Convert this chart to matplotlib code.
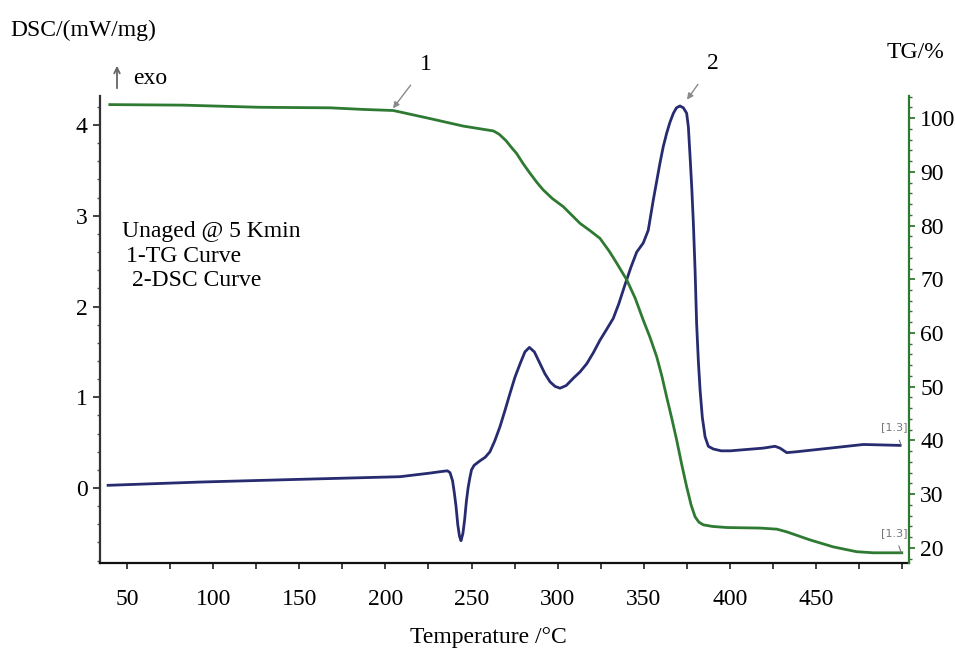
import matplotlib
matplotlib.use("Agg")
import matplotlib.pyplot as plt
from matplotlib.ticker import MultipleLocator

# ---------------- data ----------------
dsc_temp = [39, 92.4, 150.4, 208.5, 226, 231.7, 236, 237.5, 239, 240, 241, 242, 243, 243.9,
            245, 246, 247, 248, 249, 250, 251.5, 254.9, 258, 260.7, 263.5, 266.5, 269.5,
            272.3, 275.2, 278.2, 281, 283.6, 286.5, 289.8, 292.6, 295.6, 298.5, 301.4, 305,
            309.1, 313, 316.9, 320.7, 324.6, 328.5, 332.3, 335.5, 339.1, 342.5, 345.9,
            349.7, 352.6, 355.5, 357.5, 359.4, 361.3, 363.3, 365.2, 367.2, 369, 371.0, 373,
            374.9, 375.9, 376.9, 377.9, 378.8, 379.8, 380.7, 381.7, 382.7, 384, 385.6,
            387.5, 390.4, 395, 400.2, 419.4, 426.2, 429.1, 433.0, 438.8, 458.2, 477.5, 498.8]
dsc_value = [0.03, 0.066, 0.096, 0.125, 0.165, 0.18, 0.19, 0.17, 0.08, -0.05, -0.2, -0.4,
             -0.53, -0.58, -0.5, -0.35, -0.15, 0.0, 0.11, 0.2, 0.25, 0.30, 0.34, 0.40, 0.52,
             0.675, 0.86, 1.04, 1.22, 1.37, 1.50, 1.55, 1.50, 1.37, 1.26, 1.17, 1.12, 1.10,
             1.13, 1.21, 1.28, 1.37, 1.49, 1.63, 1.75, 1.87, 2.03, 2.24, 2.43, 2.60, 2.70,
             2.84, 3.17, 3.38, 3.58, 3.76, 3.91, 4.03, 4.13, 4.19, 4.21, 4.19, 4.13, 3.98,
             3.65, 3.3, 2.92, 2.4, 1.81, 1.4, 1.08, 0.78, 0.565, 0.46, 0.43, 0.41, 0.41,
             0.44, 0.46, 0.44, 0.39, 0.40, 0.44, 0.48, 0.47]

tg_temp = [40, 82.5, 127, 167.9, 187.2, 204.6, 225.9, 245.2, 262.7, 266, 270, 273, 276.2,
           280, 284, 288, 291.7, 297, 303.3, 308, 313, 319, 324.6, 330, 334.3, 340.1, 345,
           349.7, 353.5, 357.5, 360.5, 363.3, 366.2, 369.1, 372, 374.9, 377.5, 379.8, 382,
           384.6, 390, 398.2, 417.5, 427.2, 433, 446.5, 460, 473.6, 483.3, 499.8]
tg_value = [102.5, 102.4, 102.0, 101.9, 101.6, 101.4, 99.9, 98.5, 97.6, 97.0, 95.8, 94.6,
            93.4, 91.5, 89.7, 88.0, 86.6, 85.0, 83.5, 82.0, 80.4, 79.0, 77.6, 75.2, 73.0,
            69.9, 66.5, 62.4, 59.3, 55.6, 52.0, 48.1, 44.2, 40.1, 35.6, 31.4, 28.0, 25.8,
            24.8, 24.3, 24.0, 23.8, 23.7, 23.5, 23.0, 21.5, 20.2, 19.3, 19.1, 19.1]

x_ticks = [50, 100, 150, 200, 250, 300, 350, 400, 450]
dsc_ticks = [0, 1, 2, 3, 4]
tg_ticks = [20, 30, 40, 50, 60, 70, 80, 90, 100]

# ---------------- style ----------------
W, H = 955, 649
plt.rcParams['font.family'] = ['Liberation Serif', 'DejaVu Serif']
FS = 17
BLUE = '#272b6f'
GREEN = '#2f7a32'

fig = plt.figure(figsize=(W / 100, H / 100), dpi=100)
ax = fig.add_axes([100 / W, 1 - 563 / H, (909 - 100) / W, (563 - 96) / H])
ax.set_xlim(34.3, 504)
ax.set_ylim(-0.826, 4.32)

ax.plot(dsc_temp, dsc_value, color=BLUE, lw=2.0, solid_joinstyle='round')

ax.set_xticks(x_ticks)
ax.xaxis.set_minor_locator(MultipleLocator(25))
ax.set_yticks(dsc_ticks)
ax.yaxis.set_minor_locator(MultipleLocator(0.2))

ax.spines['top'].set_visible(False)
ax.spines['right'].set_visible(False)
ax.spines['left'].set_color('#333333')
ax.spines['left'].set_linewidth(1.6)
ax.spines['bottom'].set_color('#111111')
ax.spines['bottom'].set_linewidth(1.6)

ax.tick_params(axis='x', which='both', direction='out', length=4, width=1.3,
               color='#333333', labelsize=FS, pad=15)
ax.tick_params(axis='y', which='major', direction='out', length=5, width=1.3,
               color='#333333', labelsize=FS, pad=4)
ax.tick_params(axis='y', which='minor', direction='out', length=2.5, width=1.0,
               color='#555555')

ax2 = ax.twinx()
ax2.set_ylim(17.2, 104.1)
ax2.plot(tg_temp, tg_value, color=GREEN, lw=2.0, solid_joinstyle='round')
ax2.set_yticks(tg_ticks)
ax2.yaxis.set_minor_locator(MultipleLocator(2))
for s in ['top', 'left', 'bottom']:
    ax2.spines[s].set_visible(False)
ax2.spines['right'].set_color(GREEN)
ax2.spines['right'].set_linewidth(1.6)
ax2.tick_params(axis='y', which='major', direction='out', length=4, width=1.3,
                color=GREEN, labelsize=FS, pad=4)
ax2.tick_params(axis='y', which='minor', direction='out', length=2.5, width=1.0,
                color=GREEN)


def ft(x, y, s, **kw):
    fig.text(x / W, 1 - y / H, s, fontsize=kw.pop('fontsize', FS), **kw)


ft(10, 30, 'DSC/(mW/mg)', ha='left', va='center')
ft(944, 52, 'TG/%', ha='right', va='center')
ft(488, 638, 'Temperature /°C', ha='center', va='center')
ft(133, 78, 'exo', ha='left', va='center')
ft(122, 232, 'Unaged @ 5 Kmin', ha='left', va='center')
ft(126, 257, '1-TG Curve', ha='left', va='center')
ft(132, 281, '2-DSC Curve', ha='left', va='center')

# exo arrow
fig.add_artist(matplotlib.patches.FancyArrowPatch(
    (117 / W, 1 - 91 / H), (117 / W, 1 - 63 / H), transform=fig.transFigure,
    arrowstyle='->', mutation_scale=10, color='#666666', lw=1.3))

# numbered curve annotations
ax2.annotate('1', xy=(204.4, 101.8), xytext=(223.6, 109.9), textcoords='data',
             fontsize=FS, ha='center', va='center', annotation_clip=False,
             arrowprops=dict(arrowstyle='-|>', color='#8a8a8a', lw=1.0,
                             mutation_scale=9, shrinkA=8, shrinkB=0))
ax.annotate('2', xy=(375.1, 4.28), xytext=(390.2, 4.68), textcoords='data',
            fontsize=FS, ha='center', va='center', annotation_clip=False,
            arrowprops=dict(arrowstyle='-|>', color='#8a8a8a', lw=1.0,
                            mutation_scale=9, shrinkA=8, shrinkB=0))

# small end-of-curve tags
ax.annotate('[1.3]', xy=(499.5, 0.47), xytext=(495.5, 0.67), fontsize=8,
            color='#777777', ha='center', va='center', family='DejaVu Sans',
            arrowprops=dict(arrowstyle='-', color='#777777', lw=0.8, shrinkA=4, shrinkB=0))
ax2.annotate('[1.3]', xy=(499.5, 19.1), xytext=(495.5, 22.8), fontsize=8,
             color='#777777', ha='center', va='center', family='DejaVu Sans',
             arrowprops=dict(arrowstyle='-', color='#777777', lw=0.8, shrinkA=4, shrinkB=0))

fig.savefig('out.png', dpi=100, facecolor='white')
